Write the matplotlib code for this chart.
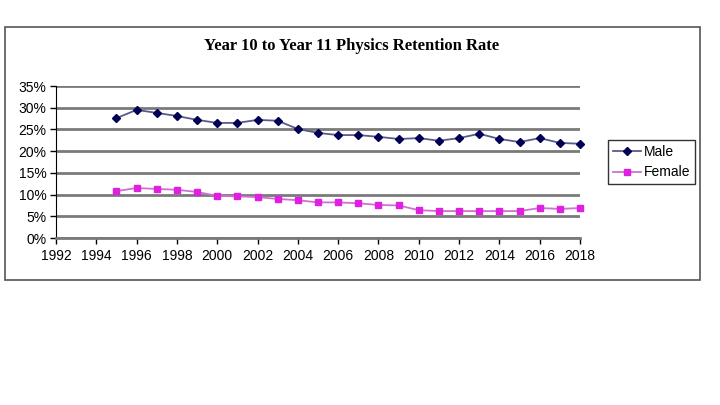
import matplotlib
matplotlib.use("Agg")
import matplotlib.pyplot as plt
from matplotlib.patches import Rectangle
from matplotlib.ticker import PercentFormatter

years = list(range(1995, 2019))
male = [27.6, 29.5, 28.8, 28.1, 27.2, 26.5, 26.5, 27.2, 27.0, 25.1, 24.2, 23.7,
        23.7, 23.3, 22.8, 23.0, 22.4, 23.0, 24.0, 22.8, 22.1, 23.0, 21.9, 21.7]
female = [10.8, 11.5, 11.3, 11.1, 10.6, 9.7, 9.6, 9.4, 9.0, 8.7, 8.2, 8.2,
          8.0, 7.6, 7.5, 6.4, 6.2, 6.2, 6.2, 6.2, 6.2, 6.9, 6.7, 6.9]
x_ticks = list(range(1992, 2019, 2))
y_ticks = [0, 5, 10, 15, 20, 25, 30, 35]
title = "Year 10 to Year 11 Physics Retention Rate"

plt.rcParams['font.family'] = ['Liberation Sans', 'DejaVu Sans']

fig = plt.figure(figsize=(7.2, 4.05), dpi=100)
fig.patch.set_facecolor('white')
fig.add_artist(Rectangle((5/720, 1-280/405), 695/720, 253/405,
                         transform=fig.transFigure, fill=False,
                         edgecolor='#555555', linewidth=1.2))

ax = fig.add_axes([56/720, 1-238/405, 524/720, 152/405])
ax.set_xlim(1992, 2018)
ax.set_ylim(0, 35)
ax.set_yticks(y_ticks)
ax.set_xticks(x_ticks)
ax.yaxis.set_major_formatter(PercentFormatter(decimals=0))
ax.grid(axis='y', color='#7a7a7a', linewidth=2)
ax.set_axisbelow(True)
for s in ['top', 'right']:
    ax.spines[s].set_visible(False)
ax.spines['bottom'].set_color('#7a7a7a')
ax.spines['bottom'].set_linewidth(2)
ax.spines['left'].set_color('black')
ax.tick_params(axis='both', labelsize=10, colors='black', length=4, width=1, direction='out')
ax.tick_params(axis='x', pad=4)
ax.tick_params(axis='y', pad=3)

ax.plot(years, male, color='#5a5a8c', linewidth=1.3, marker='D', markersize=4.5,
        markerfacecolor='#000055', markeredgecolor='#000055', label='Male', clip_on=False)
ax.plot(years, female, color='#d070d0', linewidth=1.3, marker='s', markersize=5,
        markerfacecolor='#e020e0', markeredgecolor='#e020e0', label='Female', clip_on=False)

fig.text(352/720, 1-46/405, title, ha='center', va='center',
         fontsize=12, fontweight='bold', family=['Liberation Serif', 'DejaVu Serif'])

leg = fig.legend(loc='center', bbox_to_anchor=(651.5/720, 1-162/405), fontsize=10,
                 frameon=True, fancybox=False, edgecolor='black', handlelength=2.0,
                 handletextpad=0.2, borderpad=0.35, labelspacing=0.5, borderaxespad=0)
leg.get_frame().set_linewidth(1)

fig.savefig('out.png', dpi=100)
